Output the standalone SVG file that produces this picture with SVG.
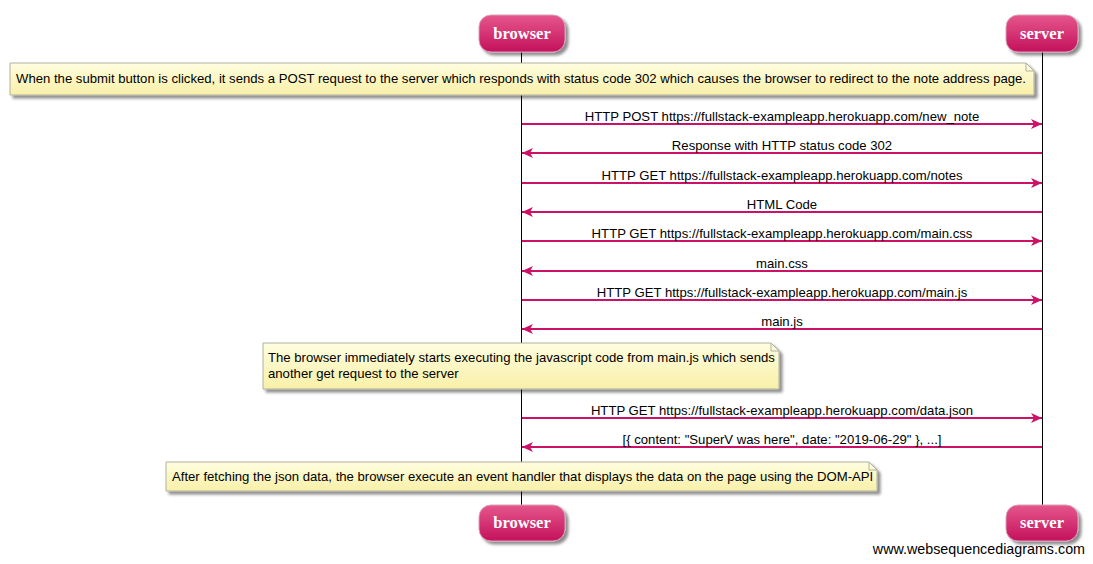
<svg xmlns="http://www.w3.org/2000/svg" width="1093" height="564" viewBox="0 0 1093 564">
<defs>
<linearGradient id="actorGrad" x1="0" y1="0" x2="0" y2="1">
<stop offset="0" stop-color="#e5578c"/>
<stop offset="1" stop-color="#c4115c"/>
</linearGradient>
<linearGradient id="noteGrad" x1="0" y1="0" x2="0" y2="1">
<stop offset="0" stop-color="#fffde0"/>
<stop offset="1" stop-color="#f8f0a8"/>
</linearGradient>
<filter id="shadow" x="-10%" y="-20%" width="120%" height="160%">
<feGaussianBlur in="SourceAlpha" stdDeviation="1.5"/>
<feOffset dx="3" dy="3" result="o"/>
<feComponentTransfer><feFuncA type="linear" slope="0.45"/></feComponentTransfer>
<feMerge><feMergeNode/><feMergeNode in="SourceGraphic"/></feMerge>
</filter>
<marker id="arrow" markerWidth="12" markerHeight="10" refX="11" refY="5" orient="auto" markerUnits="userSpaceOnUse">
<path d="M0,0 L11,5 L0,10 L3,5 Z" fill="#cc1166"/>
</marker>
</defs>
<style>
.actor rect{fill:url(#actorGrad);stroke:#d8a0b8;stroke-width:1;filter:url(#shadow)}
.actor text{font-family:"Liberation Serif","DejaVu Serif",serif;font-weight:bold;font-size:16.5px;fill:#fff;text-anchor:middle}
.life{stroke:#000;stroke-width:1}
.msg{stroke:#cc1166;stroke-width:2;fill:none;marker-end:url(#arrow)}
.lbl{font-family:"Liberation Sans",Arial,sans-serif;font-size:13.15px;fill:#000;text-anchor:middle}
.note path.body{fill:url(#noteGrad);stroke:#b0b0a0;stroke-width:1;filter:url(#shadow)}
.note path.fold{fill:none;stroke:#b0b0a0;stroke-width:1}
.note text{font-family:"Liberation Sans",Arial,sans-serif;font-size:13.15px;fill:#000}
.foot{font-family:"Liberation Sans",Arial,sans-serif;font-size:14.3px;fill:#000;text-anchor:end}
</style>
<rect width="1093" height="564" fill="#fff"/>
<g id="lifelines">
<line class="life" x1="521.5" y1="52" x2="521.5" y2="505"/>
<line class="life" x1="1042.5" y1="52" x2="1042.5" y2="505"/>
</g>
<g id="browser-top" class="actor"><rect x="479" y="15" width="86" height="37" rx="12"/><text x="522" y="39">browser</text></g>
<g id="server-top" class="actor"><rect x="1006" y="15" width="72" height="37" rx="12"/><text x="1042" y="39">server</text></g>
<g id="browser-bottom" class="actor"><rect x="479" y="505" width="86" height="36" rx="12"/><text x="522" y="528">browser</text></g>
<g id="server-bottom" class="actor"><rect x="1006" y="505" width="72" height="36" rx="12"/><text x="1042" y="528">server</text></g>
<g id="note1" class="note">
<path class="body" d="M10,63 H1026 L1034,71 V95 H10 Z"/>
<path class="fold" d="M1026,63 V71 H1034"/>
<text x="16" y="83" textLength="1010" lengthAdjust="spacing">When the submit button is clicked, it sends a POST request to the server which responds with status code 302 which causes the browser to redirect to the note address page.</text>
</g>
<g id="note2" class="note">
<path class="body" d="M263,343 H771 L779,351 V389 H263 Z"/>
<path class="fold" d="M771,343 V351 H779"/>
<text x="268" y="362">The browser immediately starts executing the javascript code from main.js which sends</text>
<text x="268" y="378">another get request to the server</text>
</g>
<g id="note3" class="note">
<path class="body" d="M166,462 H869 L877,470 V491 H166 Z"/>
<path class="fold" d="M869,462 V470 H877"/>
<text x="172" y="481">After fetching the json data, the browser execute an event handler that displays the data on the page using the DOM-API</text>
</g>
<g id="connectors">
<line class="msg" x1="522" y1="124" x2="1042" y2="124"/>
<line class="msg" x1="1042" y1="153" x2="522" y2="153"/>
<line class="msg" x1="522" y1="183" x2="1042" y2="183"/>
<line class="msg" x1="1042" y1="212" x2="522" y2="212"/>
<line class="msg" x1="522" y1="241" x2="1042" y2="241"/>
<line class="msg" x1="1042" y1="271" x2="522" y2="271"/>
<line class="msg" x1="522" y1="300" x2="1042" y2="300"/>
<line class="msg" x1="1042" y1="329" x2="522" y2="329"/>
<line class="msg" x1="522" y1="418" x2="1042" y2="418"/>
<line class="msg" x1="1042" y1="447" x2="522" y2="447"/>
</g>
<g id="labels">
<text class="lbl" x="782" y="121">HTTP POST https://fullstack-exampleapp.herokuapp.com/new_note</text>
<text class="lbl" x="782" y="150">Response with HTTP status code 302</text>
<text class="lbl" x="782" y="180">HTTP GET https://fullstack-exampleapp.herokuapp.com/notes</text>
<text class="lbl" x="782" y="209">HTML Code</text>
<text class="lbl" x="782" y="238">HTTP GET https://fullstack-exampleapp.herokuapp.com/main.css</text>
<text class="lbl" x="782" y="268">main.css</text>
<text class="lbl" x="782" y="297">HTTP GET https://fullstack-exampleapp.herokuapp.com/main.js</text>
<text class="lbl" x="782" y="326">main.js</text>
<text class="lbl" x="782" y="415">HTTP GET https://fullstack-exampleapp.herokuapp.com/data.json</text>
<text class="lbl" x="782" y="444">[{ content: "SuperV was here", date: "2019-06-29" }, ...]</text>
</g>
<text class="foot" x="1085" y="554">www.websequencediagrams.com</text>
</svg>
